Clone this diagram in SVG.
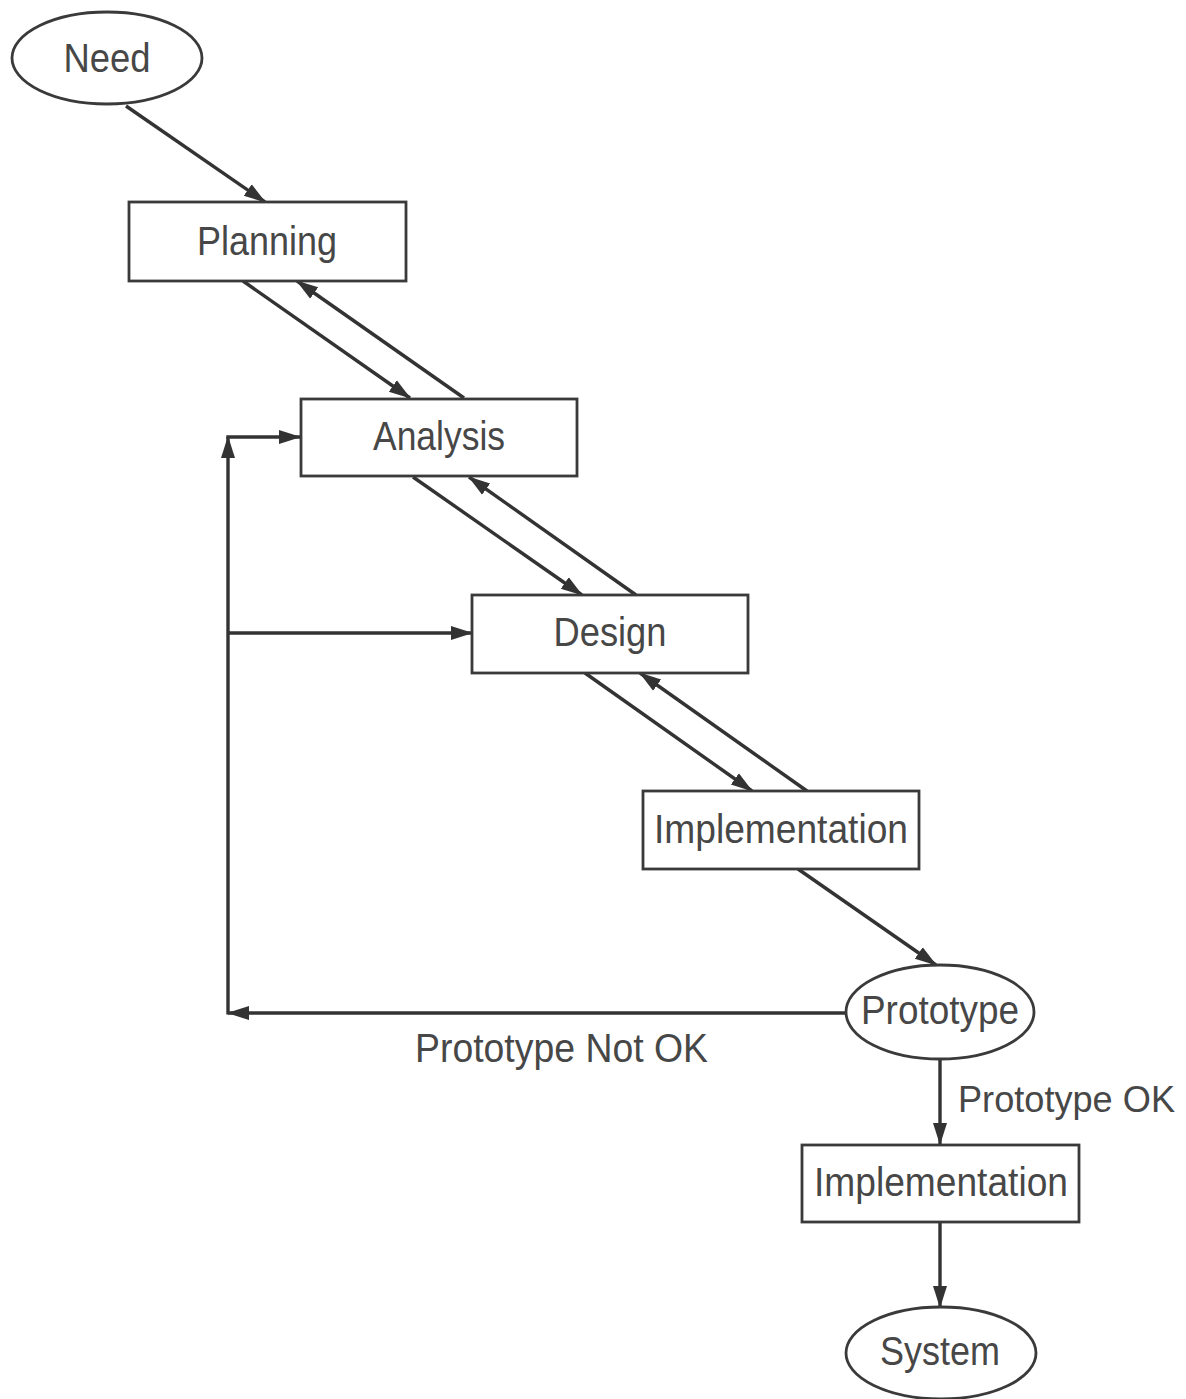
<svg xmlns="http://www.w3.org/2000/svg" width="1186" height="1399" viewBox="0 0 1186 1399">
  <style>
    .shape { fill: #ffffff; stroke: #3a3a3a; stroke-width: 2.8; }
    .edge { fill: none; stroke: #333333; stroke-width: 3.4; }
    .label { font-family: "Liberation Sans", Arial, sans-serif; font-size: 40px; fill: #474747; }
    .label.side { font-size: 37px; }
  </style>
  <defs>
    <marker id="arrow" markerUnits="userSpaceOnUse" markerWidth="22" markerHeight="16" viewBox="0 0 22 16" refX="21" refY="8" orient="auto">
      <path d="M0,1 L22,8 L0,15 z" fill="#333333"/>
    </marker>
  </defs>

  <rect width="1186" height="1399" fill="#ffffff"/>

  <!-- connectors -->
  <g id="connectors">
    <line class="edge" x1="126" y1="106" x2="265" y2="202" marker-end="url(#arrow)"/>
    <line class="edge" x1="243" y1="281" x2="410" y2="398" marker-end="url(#arrow)"/>
    <line class="edge" x1="464" y1="398" x2="297" y2="281" marker-end="url(#arrow)"/>
    <line class="edge" x1="413" y1="477" x2="582" y2="595" marker-end="url(#arrow)"/>
    <line class="edge" x1="636" y1="595" x2="469" y2="477" marker-end="url(#arrow)"/>
    <line class="edge" x1="585" y1="673" x2="752" y2="791" marker-end="url(#arrow)"/>
    <line class="edge" x1="807" y1="791" x2="640" y2="673" marker-end="url(#arrow)"/>
    <line class="edge" x1="798" y1="869" x2="936" y2="965" marker-end="url(#arrow)"/>
    <!-- feedback loop: Prototype Not OK -->
    <line class="edge" x1="846" y1="1013" x2="228" y2="1013" marker-end="url(#arrow)"/>
    <line class="edge" x1="228" y1="1014.5" x2="228" y2="437" marker-end="url(#arrow)"/>
    <line class="edge" x1="226.3" y1="437" x2="300" y2="437" marker-end="url(#arrow)"/>
    <line class="edge" x1="228" y1="633" x2="472" y2="633" marker-end="url(#arrow)"/>
    <!-- Prototype OK path -->
    <line class="edge" x1="940" y1="1059" x2="940" y2="1144" marker-end="url(#arrow)"/>
    <line class="edge" x1="940" y1="1222" x2="940" y2="1307" marker-end="url(#arrow)"/>
  </g>

  <g id="need">
    <ellipse class="shape" cx="107" cy="58" rx="95" ry="46"/>
    <text class="label" x="107" y="72" text-anchor="middle" textLength="87" lengthAdjust="spacingAndGlyphs">Need</text>
  </g>

  <g id="planning">
    <rect class="shape" x="129" y="202" width="277" height="79"/>
    <text class="label" x="267" y="255" text-anchor="middle" textLength="140" lengthAdjust="spacingAndGlyphs">Planning</text>
  </g>

  <g id="analysis">
    <rect class="shape" x="301" y="399" width="276" height="77"/>
    <text class="label" x="439" y="450" text-anchor="middle" textLength="132" lengthAdjust="spacingAndGlyphs">Analysis</text>
  </g>

  <g id="design">
    <rect class="shape" x="472" y="595" width="276" height="78"/>
    <text class="label" x="610" y="646" text-anchor="middle" textLength="113" lengthAdjust="spacingAndGlyphs">Design</text>
  </g>

  <g id="implementation-1">
    <rect class="shape" x="643" y="791" width="276" height="78"/>
    <text class="label" x="781" y="843" text-anchor="middle" textLength="254" lengthAdjust="spacingAndGlyphs">Implementation</text>
  </g>

  <g id="prototype">
    <ellipse class="shape" cx="940" cy="1012" rx="94" ry="47"/>
    <text class="label" x="940" y="1024" text-anchor="middle" textLength="158" lengthAdjust="spacingAndGlyphs">Prototype</text>
  </g>

  <g id="implementation-2">
    <rect class="shape" x="802" y="1145" width="277" height="77"/>
    <text class="label" x="941" y="1196" text-anchor="middle" textLength="254" lengthAdjust="spacingAndGlyphs">Implementation</text>
  </g>

  <g id="system">
    <ellipse class="shape" cx="941" cy="1353" rx="95" ry="46"/>
    <text class="label" x="940" y="1365" text-anchor="middle" textLength="120" lengthAdjust="spacingAndGlyphs">System</text>
  </g>

  <g id="edge-labels">
    <text class="label" x="415" y="1062" textLength="293" lengthAdjust="spacingAndGlyphs">Prototype Not OK</text>
    <text class="label side" x="958" y="1112" textLength="217" lengthAdjust="spacingAndGlyphs">Prototype OK</text>
  </g>
</svg>
